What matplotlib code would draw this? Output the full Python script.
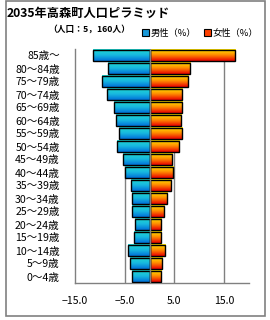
import numpy as np
import matplotlib
matplotlib.use("Agg")
import matplotlib.pyplot as plt
from matplotlib.colors import LinearSegmentedColormap
from matplotlib.patches import Rectangle, Patch

plt.rcParams['font.family'] = ['Noto Sans CJK JP', 'DejaVu Sans']

# age groups, bottom to top
ages = ['0～4歳', '5～9歳', '10～14歳', '15～19歳', '20～24歳', '25～29歳',
        '30～34歳', '35～39歳', '40～44歳', '45～49歳', '50～54歳', '55～59歳',
        '60～64歳', '65～69歳', '70～74歳', '75～79歳', '80～84歳', '85歳～']
male = [3.6, 4.0, 4.4, 3.2, 3.0, 3.6, 3.6, 3.8, 4.9, 5.3, 6.5, 6.1,
        6.7, 7.1, 8.5, 9.5, 8.3, 11.3]
female = [2.3, 2.5, 3.2, 2.3, 2.3, 2.9, 3.6, 4.4, 4.7, 4.6, 6.0, 6.5,
          6.3, 6.5, 6.6, 7.8, 8.1, 17.2]
xticks = [-15, -5, 5, 15]

blue_cm = LinearSegmentedColormap.from_list('b', ['#20d8d0', '#18b8e0', '#0070d8'])
red_cm = LinearSegmentedColormap.from_list('r', ['#ffe800', '#ff8800', '#e80000'])
grad = np.linspace(0, 1, 64).reshape(-1, 1)

fig = plt.figure(figsize=(2.7, 3.2), dpi=100)
ax = fig.add_axes([75/270, 37/320, 174/270, 234/320])

h = 0.86
y = np.arange(len(ages))
for i in y:
    for val, cm in ((-male[i], blue_cm), (female[i], red_cm)):
        x0, x1 = min(0, val), max(0, val)
        ax.imshow(grad, cmap=cm, aspect='auto', origin='upper',
                  extent=[x0, x1, i - h/2, i + h/2], zorder=2,
                  interpolation='bilinear')
        ax.add_patch(Rectangle((x0, i - h/2), x1 - x0, h, fill=False,
                               edgecolor='black', lw=1.0, zorder=3))

for gx in [-5, 5, 15]:
    ax.axvline(gx, color='#808080', lw=1.0, zorder=1)
ax.axvline(0, color='#808080', lw=1.0, zorder=4)

ax.set_xlim(-15, 20)
ax.set_ylim(-0.5, len(ages) - 0.5)
ax.set_yticks(y)
ax.set_yticklabels(ages, fontsize=7.6)
ax.set_xticks(xticks)
ax.set_xticklabels([('%.1f' % v).replace('-', '\u2212') for v in xticks], fontsize=7.6)
ax.tick_params(length=0, pad=9)
ax.tick_params(axis='y', pad=11)
for s in ['top', 'right']:
    ax.spines[s].set_visible(False)
for s in ['left', 'bottom']:
    ax.spines[s].set_color('#808080')
    ax.spines[s].set_linewidth(1.0)

fig.text(7/270, 1 - 13/320, '2035年高森町人口ピラミッド', fontsize=8.8,
         fontweight='bold', va='center', ha='left')
fig.text(48/270, 1 - 29/320, '（人口：5，160人）', fontsize=6.3,
         fontweight='bold', va='center', ha='left')

handles = [Patch(facecolor='#1898d8', edgecolor='black', lw=0.8, label='男性（%）'),
           Patch(facecolor='#ff4000', edgecolor='black', lw=0.8, label='女性（%）')]
fig.legend(handles=handles, loc='center right', bbox_to_anchor=(263/270, 1 - 33/320),
           ncol=2, frameon=False, fontsize=6.7, handlelength=0.75, handleheight=0.75,
           handletextpad=0.2, columnspacing=0.8, borderpad=0)

fig.patches.append(Rectangle((5.5/270, 4/320), 259/270, 315/320, fill=False,
                             edgecolor='#808080', lw=1.2, transform=fig.transFigure,
                             figure=fig))

fig.savefig('out.png', dpi=100)
